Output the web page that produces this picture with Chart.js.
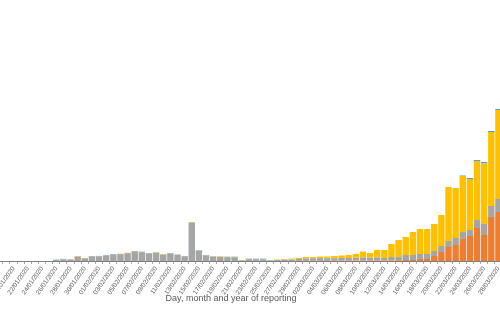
<!DOCTYPE html>
<html>
<head>
<meta charset="utf-8">
<script src="https://cdn.jsdelivr.net/npm/chart.js@4.4.1/dist/chart.umd.min.js"></script>
<style>
    html, body { margin: 0; padding: 0; background: #fff; overflow: hidden; }
    #wrap { position: absolute; left: -40px; top: 0; width: 542px; height: 335px; }
</style>
</head>
<body>
<div id="wrap"><canvas id="casesChart" width="542" height="335"></canvas></div>
<script>
// Reporting days (13/01 - 28/03/2020)
const days = [
    '13/01/2020', '14/01/2020', '15/01/2020', '16/01/2020', '17/01/2020', '18/01/2020', '19/01/2020',
    '20/01/2020', '21/01/2020', '22/01/2020', '23/01/2020', '24/01/2020', '25/01/2020', '26/01/2020',
    '27/01/2020', '28/01/2020', '29/01/2020', '30/01/2020', '31/01/2020', '01/02/2020', '02/02/2020',
    '03/02/2020', '04/02/2020', '05/02/2020', '06/02/2020', '07/02/2020', '08/02/2020', '09/02/2020',
    '10/02/2020', '11/02/2020', '12/02/2020', '13/02/2020', '14/02/2020', '15/02/2020', '16/02/2020',
    '17/02/2020', '18/02/2020', '19/02/2020', '20/02/2020', '21/02/2020', '22/02/2020', '23/02/2020',
    '24/02/2020', '25/02/2020', '26/02/2020', '27/02/2020', '28/02/2020', '29/02/2020', '01/03/2020',
    '02/03/2020', '03/03/2020', '04/03/2020', '05/03/2020', '06/03/2020', '07/03/2020', '08/03/2020',
    '09/03/2020', '10/03/2020', '11/03/2020', '12/03/2020', '13/03/2020', '14/03/2020', '15/03/2020',
    '16/03/2020', '17/03/2020', '18/03/2020', '19/03/2020', '20/03/2020', '21/03/2020', '22/03/2020',
    '23/03/2020', '24/03/2020', '25/03/2020', '26/03/2020', '27/03/2020', '28/03/2020'
];

// New cases per day, by continent
const america = [
    0, 0, 0, 0, 0, 0, 0, 0, 0, 0, 0, 0, 0, 0, 0, 0, 0, 0, 0, 0, 0,
    0, 0, 0, 0, 0, 0, 0, 0, 0, 0, 0, 0, 0, 0, 0, 0, 0, 0, 0, 0, 0,
    0, 0, 0, 0, 0, 0, 40, 40, 40, 40, 80, 120, 120, 160, 160, 200, 240, 200,
    240, 320, 400, 400, 800, 800, 2000, 3600, 5600, 6400, 8800, 10000, 13200, 10400, 17600, 19600
];
const asia = [
    0, 0, 0, 0, 0, 0, 0, 0, 0, 0, 0, 0, 0, 400, 680, 680, 1760, 1040, 1840, 1880, 2240,
    2640, 2720, 3120, 3800, 3520, 3040, 3200, 2600, 3000, 2480, 1880, 15400, 4080, 2240, 1720, 1680, 1560, 1560, 240, 760, 720,
    720, 240, 400, 520, 520, 800, 1000, 1040, 1120, 1040, 1040, 1120, 1080, 1120, 1280, 1120, 1200, 1000,
    1360, 1280, 2000, 2000, 2000, 2000, 2000, 2400, 2400, 2800, 2800, 2400, 3200, 4400, 4400, 5200
];
const europe = [
    0, 0, 0, 0, 0, 0, 0, 0, 0, 0, 0, 0, 0, 0, 0, 0, 240, 200, 0, 0, 0,
    0, 200, 200, 0, 0, 0, 0, 200, 0, 0, 0, 200, 0, 0, 0, 200, 0, 0, 0, 0, 0,
    0, 0, 200, 280, 280, 400, 560, 520, 640, 720, 880, 960, 1200, 1520, 2360, 1880, 3040, 3200,
    5200, 6800, 7200, 9200, 10000, 10000, 10800, 12400, 21600, 20000, 22400, 20400, 23600, 24200, 29600, 35600
];
const oceania = [
    0, 0, 0, 0, 0, 0, 0, 0, 0, 0, 0, 0, 0, 120, 160, 0, 0, 0, 160, 160, 160,
    160, 0, 0, 0, 0, 0, 0, 0, 0, 0, 0, 0, 0, 0, 0, 0, 0, 0, 0, 0, 200,
    200, 0, 0, 0, 0, 0, 0, 0, 0, 0, 0, 0, 0, 0, 0, 0, 0, 0,
    0, 0, 0, 0, 0, 0, 0, 0, 0, 0, 200, 400, 400, 600, 400, 400
];
const other = [
    0, 0, 0, 0, 0, 0, 0, 0, 0, 0, 0, 0, 0, 0, 0, 0, 0, 0, 0, 0, 0,
    0, 0, 0, 200, 200, 160, 200, 0, 200, 120, 120, 0, 200, 160, 160, 0, 160, 160, 160, 160, 0,
    0, 160, 0, 0, 120, 0, 0, 0, 0, 0, 0, 0, 0, 0, 0, 0, 0, 0,
    0, 0, 0, 0, 0, 0, 0, 0, 0, 0, 0, 0, 0, 0, 0, 0
];

const textColor = '#595959';

function series(label, data, color) {
    return {
        label: label,
        data: data,
        backgroundColor: color,
        borderWidth: 0,
        barPercentage: 0.9,
        categoryPercentage: 1.0
    };
}

new Chart(document.getElementById('casesChart'), {
    type: 'bar',
    data: {
        labels: days,
        datasets: [
            series('America', america, '#ED7D31'),
            series('Asia', asia, '#A5A5A5'),
            series('Europe', europe, '#FFC000'),
            series('Oceania', oceania, '#5B9BD5'),
            series('Other', other, '#70AD47')
        ]
    },
    options: {
        responsive: false,
        animation: false,
        layout: {
            padding: { top: 11, bottom: 31, left: 0, right: 0 }
        },
        plugins: {
            legend: { display: false },
            tooltip: { enabled: false }
        },
        scales: {
            x: {
                stacked: true,
                offset: true,
                grid: {
                    display: true,
                    offset: true,
                    drawOnChartArea: false,
                    drawTicks: true,
                    tickLength: 3,
                    color: '#a6a6a6'
                },
                border: { display: true, color: '#7f7f7f', width: 1 },
                ticks: {
                    autoSkip: false,
                    minRotation: 55,
                    maxRotation: 55,
                    padding: 1,
                    color: textColor,
                    font: { family: 'Liberation Sans', size: 6.5 },
                    // every second day gets a label
                    callback: function(value, index) {
                        return index % 2 === 1 ? this.getLabelForValue(value) : '';
                    }
                },
                title: {
                    display: true,
                    text: 'Day, month and year of reporting',
                    color: textColor,
                    font: { family: 'Liberation Sans', size: 9 },
                    padding: 0
                },
                afterFit: function(scale) {
                    scale.paddingLeft = 0;
                    scale.paddingRight = 0;
                    scale.height = 43;
                }
            },
            y: {
                stacked: true,
                display: false,
                min: 0,
                max: 100000
            }
        }
    }
});
</script>
</body>
</html>
